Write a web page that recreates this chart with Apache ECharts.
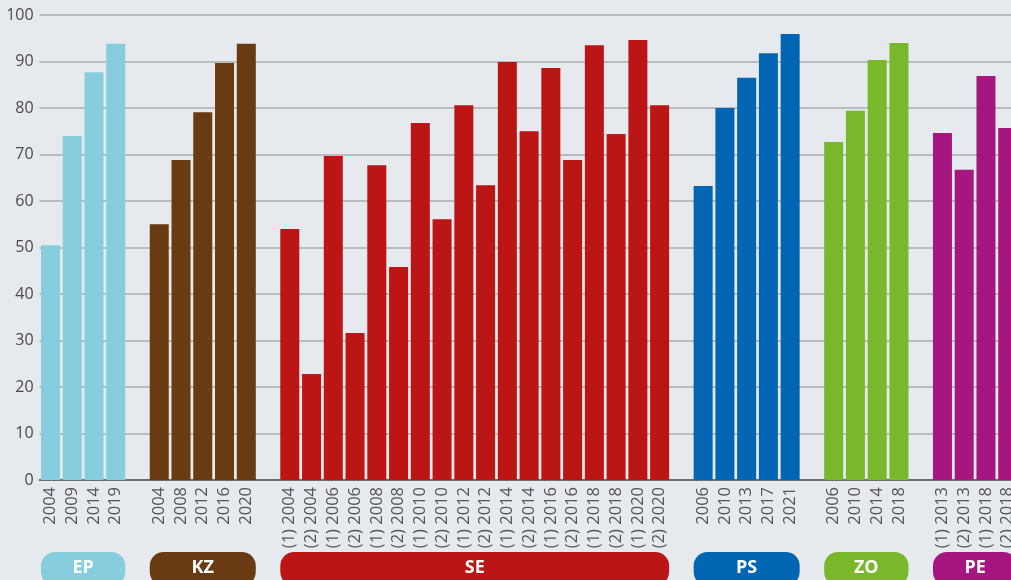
<!DOCTYPE html>
<html>
<head>
<meta charset="utf-8">
<script src="https://cdn.jsdelivr.net/npm/echarts@6/dist/echarts.min.js"></script>
<style>
  html, body { margin: 0; padding: 0; background: #e6e9ee; }
  #chart { width: 1011px; height: 580px; }
</style>
</head>
<body>
<div id="chart"></div>
<script>
// groups in order, one empty slot between them
var groupNames = ["EP", "KZ", "SE", "PS", "ZO", "PE"];
var groupColors = ["#86cedd", "#683b12", "#bc1515", "#0066b3", "#79b82a", "#a5177f"];

var epYears = ["2004", "2009", "2014", "2019"];
var epValues = [50.5, 74, 87.7, 93.8];

var kzYears = ["2004", "2008", "2012", "2016", "2020"];
var kzValues = [55, 68.8, 79.1, 89.7, 93.8];

var seYears = ["(1) 2004", "(2) 2004", "(1) 2006", "(2) 2006", "(1) 2008", "(2) 2008",
  "(1) 2010", "(2) 2010", "(1) 2012", "(2) 2012", "(1) 2014", "(2) 2014",
  "(1) 2016", "(2) 2016", "(1) 2018", "(2) 2018", "(1) 2020", "(2) 2020"];
var seValues = [54, 22.8, 69.7, 31.6, 67.7, 45.8, 76.8, 56.1, 80.6, 63.4,
  89.9, 75, 88.6, 68.8, 93.5, 74.4, 94.6, 80.6];

var psYears = ["2006", "2010", "2013", "2017", "2021"];
var psValues = [63.2, 80, 86.5, 91.8, 95.9];

var zoYears = ["2006", "2010", "2014", "2018"];
var zoValues = [72.7, 79.4, 90.3, 94];

var peYears = ["(1) 2013", "(2) 2013", "(1) 2018", "(2) 2018"];
var peValues = [74.6, 66.7, 86.9, 75.7];

var yTicks = [0, 10, 20, 30, 40, 50, 60, 70, 80, 90, 100];

var groupYears = [epYears, kzYears, seYears, psYears, zoYears, peYears];
var groupValues = [epValues, kzValues, seValues, psValues, zoValues, peValues];

// build the full category list with gap slots
var categories = [];
var ranges = [];
groupYears.forEach(function (ys, g) {
  if (g > 0) categories.push("");
  var start = categories.length;
  ys.forEach(function (y) { categories.push(y); });
  ranges.push([start, categories.length - 1]);
});

var series = groupValues.map(function (vals, g) {
  var data = categories.map(function () { return null; });
  vals.forEach(function (v, i) { data[ranges[g][0] + i] = v; });
  return {
    name: groupNames[g],
    type: "bar",
    data: data,
    barWidth: 19,
    barGap: "-100%",
    itemStyle: { color: groupColors[g] }
  };
});

// group pills under the labels
series.push({
  type: "custom",
  clip: false,
  silent: true,
  data: ranges.map(function (r) { return [r[0], 0]; }),
  renderItem: function (params, api) {
    var r = ranges[params.dataIndex];
    var half = 9.5;
    var x0 = api.coord([r[0], 0])[0] - half;
    var x1 = api.coord([r[1], 0])[0] + half;
    var y0 = api.coord([r[0], 0])[1] + 72;
    return {
      type: "group",
      children: [{
        type: "rect",
        shape: { x: x0, y: y0, width: x1 - x0, height: 34, r: 14 },
        style: { fill: groupColors[params.dataIndex] }
      }, {
        type: "text",
        style: {
          text: groupNames[params.dataIndex],
          x: (x0 + x1) / 2, y: y0 + 15.5,
          align: "center", verticalAlign: "middle",
          fill: "#ffffff",
          font: "bold 18px 'Open Sans'"
        }
      }]
    };
  }
});

var chart = echarts.init(document.getElementById("chart"));
chart.setOption({
  animation: false,
  backgroundColor: "#e6e9ee",
  grid: {
    left: 39.6, right: -7.6, top: 15, bottom: 100,
    containLabel: false,
    outerBoundsMode: "none"
  },
  xAxis: {
    type: "category",
    data: categories,
    axisTick: { show: false },
    axisLine: { lineStyle: { color: "#6b6b6b", width: 2 } },
    axisLabel: {
      rotate: 90,
      interval: 0,
      margin: 7,
      color: "#555555",
      fontFamily: "Open Sans",
      fontSize: 16.5
    }
  },
  yAxis: {
    type: "value",
    min: yTicks[0],
    max: yTicks[yTicks.length - 1],
    interval: 10,
    axisLine: { show: false },
    axisTick: { show: false },
    splitLine: { lineStyle: { color: "#acacac", width: 1.6 } },
    axisLabel: {
      margin: 6,
      color: "#4a4a4a",
      fontFamily: "Open Sans",
      fontSize: 16
    }
  },
  series: series
});
</script>
</body>
</html>
